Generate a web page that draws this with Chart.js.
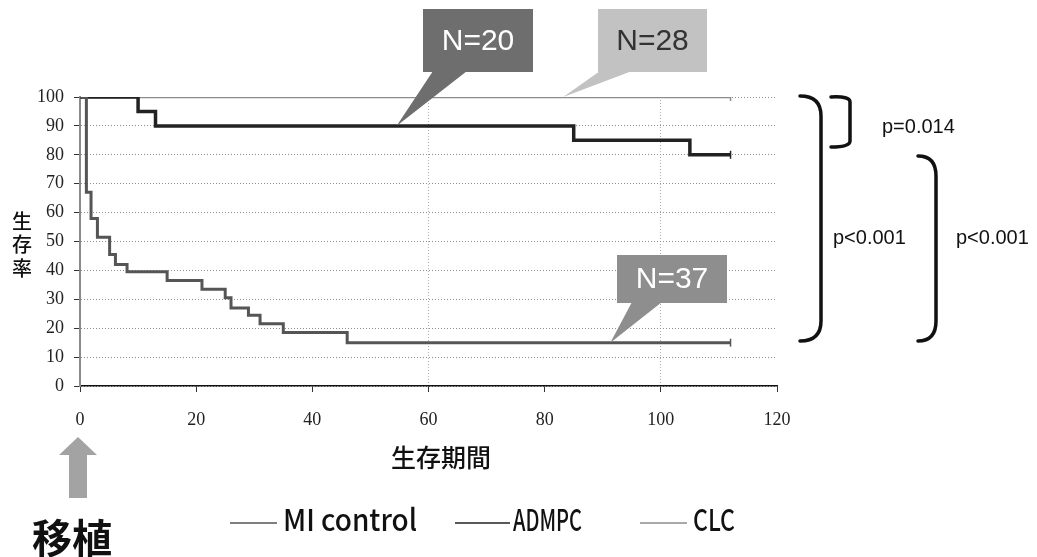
<!DOCTYPE html>
<html>
<head>
<meta charset="utf-8">
<script src="https://cdn.jsdelivr.net/npm/chart.js@4"></script>
<style>
  body { margin: 0; background: #fff; }
</style>
</head>
<body>
<canvas id="myChart" width="1037" height="557"></canvas>
<script>
// survival data (time, % surviving after that time)
const seriesNames = ['MI control', 'ADMPC', 'CLC'];
const miTimes = [0, 1.1, 1.9, 3, 5.1, 6.1, 8.1, 15, 21, 25, 26, 29, 31, 35, 46, 112];
const miSurvival = [100, 67, 58, 51.5, 45.5, 42, 39.5, 36.5, 33.5, 30.5, 27, 24.5, 21.5, 18.5, 15, 15];
const admpcTimes = [0, 10, 13, 85, 105, 112];
const admpcSurvival = [100, 95, 90, 85, 80, 80];
const clcTimes = [0, 112];
const clcSurvival = [100, 100];

const xTicks = [0, 20, 40, 60, 80, 100, 120];
const yTicks = [0, 10, 20, 30, 40, 50, 60, 70, 80, 90, 100];

const xTitle = '生存期間';
const yTitle = '生存率';
const transplantLabel = '移植';
const groupSizes = ['N=37', 'N=20', 'N=28'];
const pLabels = ['p=0.014', 'p<0.001', 'p<0.001'];

const lineColors = ['#555', '#222', '#8c8c8c'];

function points(times, values) {
    return times.map((t, i) => ({ x: t, y: values[i] }));
}

function dataset(label, times, values, color, width) {
    return {
        label: label,
        data: points(times, values),
        borderColor: color,
        borderWidth: width,
        stepped: 'before',
        fill: false,
        pointStyle: 'line',
        rotation: 90,
        pointRadius: ctx => ctx.dataIndex === times.length - 1 ? 4 : 0,
        pointBorderColor: color,
        pointBorderWidth: 1.5,
    };
}

function callout(ctx, box, base, tip, fill, textColor, text) {
    ctx.save();
    ctx.fillStyle = fill;
    ctx.fillRect(box[0], box[1], box[2] - box[0], box[3] - box[1]);
    ctx.beginPath();
    ctx.moveTo(base[0], box[3] - 1);
    ctx.lineTo(base[1], box[3] - 1);
    ctx.lineTo(tip.x, tip.y);
    ctx.closePath();
    ctx.fill();
    ctx.fillStyle = textColor;
    ctx.font = '30px "Liberation Sans"';
    ctx.textAlign = 'center';
    ctx.textBaseline = 'middle';
    ctx.fillText(text, (box[0] + box[2]) / 2, (box[1] + box[3]) / 2 + 1);
    ctx.restore();
}

function roundBracket(ctx, x0, x1, top, bottom) {
    ctx.beginPath();
    ctx.moveTo(x0, top);
    ctx.quadraticCurveTo(x1, top, x1, top + 20);
    ctx.lineTo(x1, bottom - 20);
    ctx.quadraticCurveTo(x1, bottom, x0, bottom);
    ctx.stroke();
}

const extras = {
    id: 'extras',
    afterDraw(chart) {
        const ctx = chart.ctx;
        const xs = chart.scales.x;
        const ys = chart.scales.y;
        const at = (x, y) => ({ x: xs.getPixelForValue(x), y: ys.getPixelForValue(y) });

        // group size callouts
        callout(ctx, [423, 9, 533, 72], [433, 467], at(54.5, 90), '#6e6e6e', '#fff', groupSizes[1]);
        callout(ctx, [598, 9, 707, 72], [600, 632], at(83.2, 100), '#c2c2c2', '#333', groupSizes[2]);
        callout(ctx, [617, 255, 727, 303], [632, 662], at(91.3, 15), '#8e8e8e', '#fff', groupSizes[0]);

        // brackets and p-values
        ctx.save();
        ctx.strokeStyle = '#111';
        ctx.lineWidth = 3.5;
        ctx.lineCap = 'round';
        roundBracket(ctx, 800, 821, 96, 341);
        roundBracket(ctx, 918, 936, 156, 341);
        ctx.beginPath();
        ctx.moveTo(831, 97);
        ctx.quadraticCurveTo(850, 96, 850, 102);
        ctx.lineTo(850, 141);
        ctx.quadraticCurveTo(850, 147, 831, 147);
        ctx.stroke();
        ctx.fillStyle = '#111';
        ctx.font = '20px "Liberation Sans"';
        ctx.textBaseline = 'middle';
        ctx.fillText(pLabels[0], 882, 127);
        ctx.fillText(pLabels[1], 833, 238);
        ctx.fillText(pLabels[2], 956, 238);
        ctx.restore();

        // axis titles
        ctx.save();
        ctx.fillStyle = '#111';
        ctx.textAlign = 'center';
        ctx.textBaseline = 'middle';
        ctx.font = '500 20px "Noto Sans CJK JP"';
        [...yTitle].forEach((ch, i) => ctx.fillText(ch, 22, 221 + i * 23.5));
        ctx.font = '500 25px "Noto Sans CJK JP"';
        ctx.fillText(xTitle, 441, 457);

        // transplant arrow
        ctx.fillStyle = '#a3a3a3';
        ctx.beginPath();
        ctx.moveTo(78, 437);
        ctx.lineTo(97, 455);
        ctx.lineTo(87, 455);
        ctx.lineTo(87, 498);
        ctx.lineTo(69, 498);
        ctx.lineTo(69, 455);
        ctx.lineTo(59, 455);
        ctx.closePath();
        ctx.fill();
        ctx.fillStyle = '#111';
        ctx.font = 'bold 40px "Noto Sans CJK JP"';
        ctx.fillText(transplantLabel, 72, 538);

        // legend
        const legendX = [[230, 277, 283, 134], [455, 510, 513, 69], [640, 687, 693, 42]];
        ctx.textAlign = 'left';
        ctx.font = '500 30px "Noto Sans CJK JP"';
        chart.data.datasets.forEach((ds, i) => {
            const [l0, l1, tx, tw] = legendX[i];
            ctx.strokeStyle = ds.borderColor;
            ctx.lineWidth = 1.5;
            ctx.beginPath();
            ctx.moveTo(l0, 523);
            ctx.lineTo(l1, 523);
            ctx.stroke();
            ctx.fillText(ds.label, tx, 520, tw);
        });
        ctx.restore();
    }
};

const ctx = document.getElementById('myChart').getContext('2d');
new Chart(ctx, {
    type: 'line',
    data: {
        datasets: [
            dataset(seriesNames[0], miTimes, miSurvival, lineColors[0], 3),
            dataset(seriesNames[1], admpcTimes, admpcSurvival, lineColors[1], 3.5),
            dataset(seriesNames[2], clcTimes, clcSurvival, lineColors[2], 2.5),
        ]
    },
    options: {
        responsive: false,
        animation: false,
        layout: { padding: { top: 97, right: 260, left: 0, bottom: 0 } },
        plugins: {
            legend: { display: false },
            tooltip: { enabled: false },
        },
        scales: {
            x: {
                type: 'linear',
                min: 0,
                max: 120,
                afterFit: scale => { scale.height = 171; },
                afterBuildTicks: scale => { scale.ticks = xTicks.map(v => ({ value: v })); },
                ticks: {
                    color: '#222',
                    padding: 17,
                    font: { family: 'Liberation Serif', size: 18 },
                },
                grid: {
                    color: c => (c.tick && (c.tick.value === 60 || c.tick.value === 100)) ? 'rgba(120,120,120,0.6)' : 'rgba(0,0,0,0)',
                    tickLength: 6,
                    tickColor: '#333',
                    tickBorderDash: [],
                },
                border: { color: '#111', width: 1.5, dash: [1, 2] },
            },
            y: {
                min: 0,
                max: 100,
                afterFit: scale => { scale.width = 80; },
                afterBuildTicks: scale => { scale.ticks = yTicks.map(v => ({ value: v })); },
                ticks: {
                    color: '#222',
                    padding: 10,
                    font: { family: 'Liberation Serif', size: 18 },
                },
                grid: {
                    color: '#909090',
                    tickLength: 6,
                    tickColor: '#333',
                    tickBorderDash: [],
                },
                border: { color: '#8a8a8a', width: 2, dash: [1, 2] },
            }
        }
    },
    plugins: [extras]
});
</script>
</body>
</html>
